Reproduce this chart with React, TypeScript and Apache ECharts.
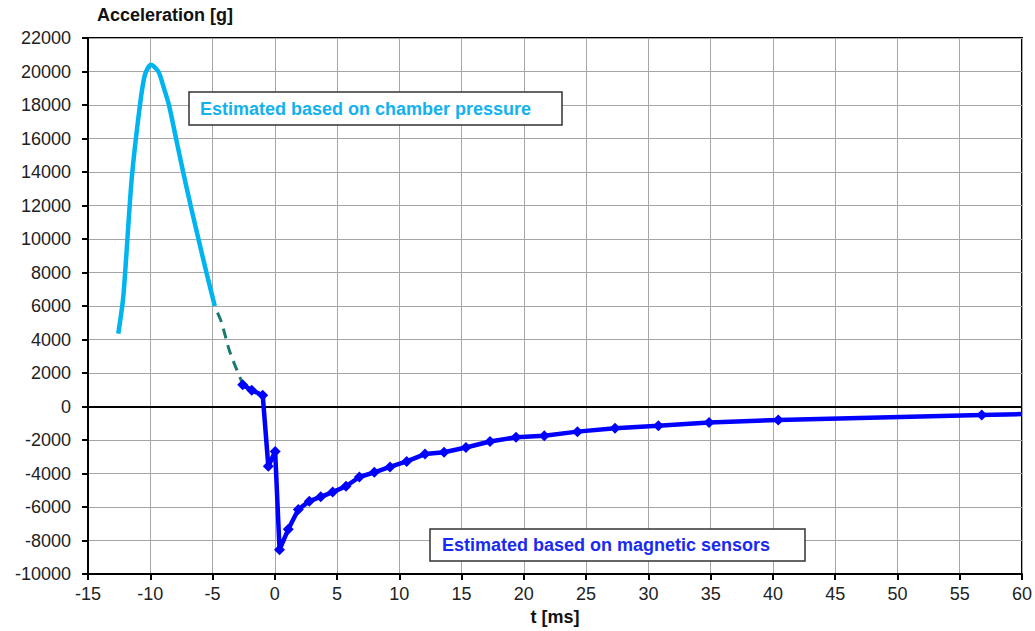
import React, { useEffect, useRef } from "react";
import * as echarts from "echarts";

// Chamber-pressure based estimate (cyan, smooth)
const chamberT = [-12.57, -12.16, -11.5, -10.82, -10.42, -9.95, -9.35, -8.9, -8.5, -7.93, -7.36, -6.76, -6.13, -5.49, -4.82];
const chamberA = [4350, 6600, 13500, 18050, 19830, 20400, 20000, 19000, 18000, 16000, 14000, 12000, 10000, 8000, 6000];

// Interpolated transition (dashed)
const bridgeT = [-4.6, -4.27, -3.6, -2.66];
const bridgeA = [5600, 5000, 3240, 1500];

// Magnetic-sensor based estimate (blue, diamond markers)
const magT = [-2.58, -1.85, -0.97, -0.52, 0.03, 0.38, 1.08, 1.89, 2.77, 3.69, 4.65, 5.72, 6.79, 7.99, 9.25, 10.59, 12.06, 13.59, 15.35, 17.28, 19.37, 21.64, 24.3, 27.32, 30.8, 34.87, 40.43, 56.77, 60];
const magA = [1300, 970, 670, -3570, -2690, -8550, -7330, -6150, -5650, -5390, -5110, -4760, -4210, -3930, -3610, -3280, -2840, -2730, -2450, -2090, -1840, -1740, -1500, -1300, -1150, -950, -810, -510, -450];

const xTicks = { min: -15, max: 60, interval: 5 };
const yTicks = { min: -10000, max: 22000, interval: 2000 };

const yTitle = "Acceleration [g]";
const xTitle = "t [ms]";
const note1 = "Estimated based on chamber pressure";
const note2 = "Estimated based on magnetic sensors";

export default function App() {
  const ref = useRef<HTMLDivElement>(null);
  useEffect(() => {
    if (!ref.current) return;
    const chart = echarts.init(ref.current, undefined, { renderer: "svg" });
    const font = "Liberation Sans, Arial, sans-serif";
    const zip = (a: number[], b: number[]) => a.map((v, i) => [v, b[i]]);
    const magData = zip(magT, magA).map((p, i) =>
      i === magT.length - 1 ? { value: p, symbol: "none" } : { value: p }
    );
    chart.setOption({
      animation: false,
      backgroundColor: "#ffffff",
      grid: {
        left: 88,
        right: 13,
        top: 38,
        bottom: 53,
        show: true,
        borderColor: "#000",
        borderWidth: 2,
      },
      xAxis: {
        type: "value",
        min: xTicks.min,
        max: xTicks.max,
        interval: xTicks.interval,
        name: xTitle,
        nameLocation: "middle",
        nameGap: 34,
        nameTextStyle: { fontFamily: font, fontSize: 18, fontWeight: "bold", color: "#111" },
        axisLine: { onZero: false, lineStyle: { color: "#000", width: 2 } },
        axisTick: { show: true, inside: false, length: 6, lineStyle: { color: "#000", width: 2 } },
        axisLabel: { fontFamily: font, fontSize: 18, color: "#222", margin: 11, formatter: (v: number) => String(v) },
        splitLine: { show: true, lineStyle: { color: "#a6a6a6", width: 1 } },
      },
      yAxis: {
        type: "value",
        min: yTicks.min,
        max: yTicks.max,
        interval: yTicks.interval,
        axisLine: { show: true, onZero: false, lineStyle: { color: "#000", width: 2 } },
        axisTick: { show: true, inside: false, length: 6, lineStyle: { color: "#000", width: 2 } },
        axisLabel: { fontFamily: font, fontSize: 18, color: "#222", margin: 17, formatter: (v: number) => String(v) },
        splitLine: { show: true, lineStyle: { color: "#a6a6a6", width: 1 } },
      },
      series: [
        {
          type: "line",
          data: zip(chamberT, chamberA),
          smooth: 0.25,
          showSymbol: false,
          symbol: "none",
          lineStyle: { color: "#00b4f0", width: 4.5 },
          z: 3,
        },
        {
          type: "line",
          data: zip(bridgeT, bridgeA),
          smooth: 0.3,
          symbol: "none",
          lineStyle: { color: "#1a7a6e", width: 3, type: [10, 7] },
          z: 2,
        },
        {
          type: "line",
          data: magData,
          symbol: "diamond",
          symbolSize: 11,
          itemStyle: { color: "#0000ff" },
          lineStyle: { color: "#0000ff", width: 4.5 },
          z: 4,
          markLine: {
            silent: true,
            symbol: "none",
            label: { show: false },
            lineStyle: { color: "#000", width: 2, type: "solid" },
            data: [{ yAxis: 0 }],
            z: 1,
          },
        },
      ],
      graphic: [
        {
          type: "text",
          left: 97,
          top: 6,
          style: { text: yTitle, fontFamily: font, fontSize: 18, fontWeight: "bold", fill: "#111" },
        },
        {
          type: "rect",
          shape: { x: 189, y: 92, width: 373, height: 33 },
          style: { fill: "#fff", stroke: "#333", lineWidth: 1.5 },
          z: 10,
        },
        {
          type: "text",
          x: 200,
          y: 108.5,
          style: {
            text: note1,
            fontFamily: font,
            fontSize: 18,
            fontWeight: "bold",
            fill: "#12b2ee",
            verticalAlign: "middle",
          },
          z: 11,
        },
        {
          type: "rect",
          shape: { x: 430, y: 529, width: 375, height: 32 },
          style: { fill: "#fff", stroke: "#333", lineWidth: 1.5 },
          z: 10,
        },
        {
          type: "text",
          x: 442,
          y: 545,
          style: {
            text: note2,
            fontFamily: font,
            fontSize: 18,
            fontWeight: "bold",
            fill: "#1a2af0",
            verticalAlign: "middle",
          },
          z: 11,
        },
      ],
    });
    return () => chart.dispose();
  }, []);
  return <div ref={ref} style={{ width: 1035, height: 631, position: "absolute", left: 0, top: 0 }} />;
}
